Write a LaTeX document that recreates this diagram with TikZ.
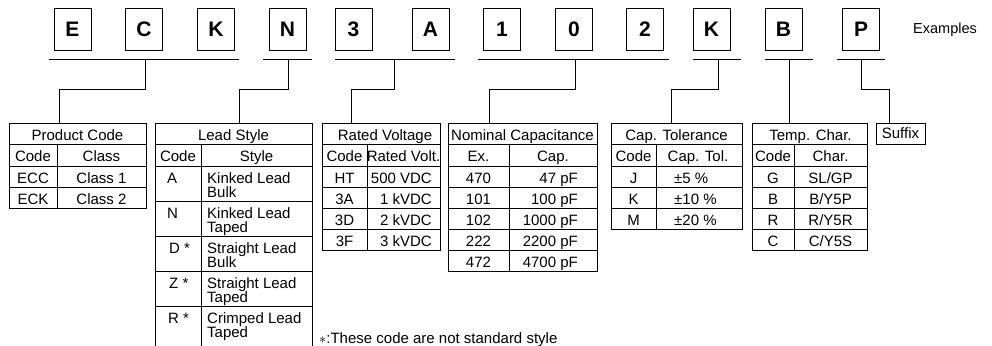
\documentclass[tikz,border=0pt]{standalone}
\usepackage{fontspec}
\setmainfont{Liberation Sans}
\usetikzlibrary{positioning}

\tikzset{
  letterbox/.style={draw, line width=.8pt, minimum width=37pt, minimum height=42pt,
    inner sep=0pt, font=\bfseries\fontsize{21}{21}\selectfont},
  rule/.style={line width=.8pt},
  cell/.style={inner sep=0pt, font=\fontsize{15}{14}\selectfont},
  twoline/.style={cell, align=left, anchor=base west},
}

\begin{document}
\begin{tikzpicture}[x=1pt,y=-1pt]
\clip (0,0) rectangle (992,345);
% the example code, letter by letter
\node[letterbox] (lE) at (72.5,29) {E};
\node[letterbox] (lC) at (144,29) {C};
\node[letterbox] (lK) at (216,29) {K};
\node[letterbox] (lN) at (287.5,29) {N};
\node[letterbox] (l3) at (353.5,29) {3};
\node[letterbox] (lA) at (430.5,29) {A};
\node[letterbox] (l1) at (502,29) {1};
\node[letterbox] (l0) at (574,29) {0};
\node[letterbox] (l2) at (645,29) {2};
\node[letterbox] (lTol) at (711.5,29) {K};
\node[letterbox] (lB) at (783.5,29) {B};
\node[letterbox] (lP) at (861,29) {P};
\node[anchor=west, inner sep=0pt, font=\fontsize{14.5}{14}\selectfont] (examples) at (913,30) {Examples};
% underlines of the groups
\draw[rule] (49,59) -- (239,59);
\draw[rule] (263,59) -- (312,59);
\draw[rule] (335,59) -- (455,59);
\draw[rule] (478,59) -- (669,59);
\draw[rule] (693,59) -- (741,59);
\draw[rule] (765,59) -- (813,59);
\draw[rule] (837,59) -- (885,59);
% connectors
\coordinate (uProd) at (145,59); \coordinate (tProd) at (59,123);
\coordinate (uLead) at (288,59); \coordinate (tLead) at (239,123);
\coordinate (uVolt) at (394,59); \coordinate (tVolt) at (351,123);
\coordinate (uCap) at (575,59); \coordinate (tCap) at (489,123);
\coordinate (uTol) at (718,59); \coordinate (tTol) at (671,123);
\coordinate (uTemp) at (789,59); \coordinate (tTemp) at (789,123);
\coordinate (uSfx) at (861,59); \coordinate (tSfx) at (889,123);
\draw[rule] (uProd) -- ++(0,30) -| (tProd);
\draw[rule] (uLead) -- ++(0,30) -| (tLead);
\draw[rule] (uVolt) -- ++(0,30) -| (tVolt);
\draw[rule] (uCap) -- ++(0,30) -| (tCap);
\draw[rule] (uTol) -- ++(0,30) -| (tTol);
\draw[rule] (uTemp) -- (tTemp);
\draw[rule] (uSfx) -- ++(0,30) -| (tSfx);
% product code
\draw[rule] (9,123) rectangle (146,208);
\draw[rule] (9,144) -- (146,144);
\draw[rule] (9,166) -- (146,166);
\draw[rule] (9,187) -- (146,187);
\draw[rule] (57,144) -- (57,208);
\node[cell, anchor=base] (prodH) at (77.5,140) {Product Code};
\node[cell, anchor=base] (prodC) at (33,161) {Code};
\node[cell, anchor=base] (prodS) at (101.5,161) {Class};
\node[cell, anchor=base] (prodA) at (33,183) {ECC};
\node[cell, anchor=base] (prodAv) at (101.5,183) {Class 1};
\node[cell, anchor=base] (prodB) at (33,204) {ECK};
\node[cell, anchor=base] (prodBv) at (101.5,204) {Class 2};
% lead style
\draw[rule] (155,350) -- (155,123) -- (312,123) -- (312,350);
\draw[rule] (155,144) -- (312,144);
\draw[rule] (155,166) -- (312,166);
\draw[rule] (155,201) -- (312,201);
\draw[rule] (155,236) -- (312,236);
\draw[rule] (155,271) -- (312,271);
\draw[rule] (155,306) -- (312,306);
\draw[rule] (201,144) -- (201,350);
\node[cell, anchor=base] (leadH) at (233.5,140) {Lead Style};
\node[cell, anchor=base] (leadC) at (178,161) {Code};
\node[cell, anchor=base] (leadS) at (256.5,161) {Style};
\node[cell, anchor=base west] (leadA) at (167,183) {A};
\node[cell, anchor=base west] (leadN) at (167,218) {N};
\node[cell, anchor=base west] (leadD) at (169,253) {D *};
\node[cell, anchor=base west] (leadZ) at (169,288) {Z *};
\node[cell, anchor=base west] (leadR) at (168,323) {R *};
\node[twoline] (leadAv) at (207,197) {Kinked Lead\\Bulk};
\node[twoline] (leadNv) at (207,232) {Kinked Lead\\Taped};
\node[twoline] (leadDv) at (207,267) {Straight Lead\\Bulk};
\node[twoline] (leadZv) at (207,302) {Straight Lead\\Taped};
\node[twoline] (leadRv) at (207,337) {Crimped Lead\\Taped};
% rated voltage
\draw[rule] (322,123) rectangle (440,250);
\draw[rule] (322,144) -- (440,144);
\draw[rule] (322,166) -- (440,166);
\draw[rule] (322,187) -- (440,187);
\draw[rule] (322,208) -- (440,208);
\draw[rule] (322,229) -- (440,229);
\draw[rule] (367,144) -- (367,250);
\node[cell, anchor=base] (voltH) at (385,140) {Rated Voltage};
\node[cell, anchor=base] (voltC) at (344.5,161) {Code};
\node[cell, anchor=base] (voltS) at (403.5,161) {Rated Volt.};
\node[cell, anchor=base] (voltA) at (344.5,183) {HT};
\node[cell, anchor=base] (voltB) at (344.5,204) {3A};
\node[cell, anchor=base] (voltD) at (344.5,225) {3D};
\node[cell, anchor=base] (voltF) at (344.5,246) {3F};
\node[cell, anchor=base east] (voltAv) at (432,183) {500 VDC};
\node[cell, anchor=base east] (voltBv) at (432,204) {1 kVDC};
\node[cell, anchor=base east] (voltDv) at (432,225) {2 kVDC};
\node[cell, anchor=base east] (voltFv) at (432,246) {3 kVDC};
% nominal capacitance
\draw[rule] (448,123) rectangle (597,271);
\draw[rule] (448,144) -- (597,144);
\draw[rule] (448,166) -- (597,166);
\draw[rule] (448,187) -- (597,187);
\draw[rule] (448,208) -- (597,208);
\draw[rule] (448,229) -- (597,229);
\draw[rule] (448,250) -- (597,250);
\draw[rule] (509,144) -- (509,271);
\node[cell, anchor=base] (capH) at (522.5,140) {Nominal Capacitance};
\node[cell, anchor=base] (capC) at (478.5,161) {Ex.};
\node[cell, anchor=base] (capS) at (553,161) {Cap.};
\node[cell, anchor=base] (capA) at (478.5,183) {470};
\node[cell, anchor=base] (capB) at (478.5,204) {101};
\node[cell, anchor=base] (capD) at (478.5,225) {102};
\node[cell, anchor=base] (capE) at (478.5,246) {222};
\node[cell, anchor=base] (capF) at (478.5,267) {472};
\node[cell, anchor=base east] (capAv) at (578,183) {47 pF};
\node[cell, anchor=base east] (capBv) at (578,204) {100 pF};
\node[cell, anchor=base east] (capDv) at (578,225) {1000 pF};
\node[cell, anchor=base east] (capEv) at (578,246) {2200 pF};
\node[cell, anchor=base east] (capFv) at (578,267) {4700 pF};
% capacitance tolerance
\draw[rule] (611,123) rectangle (742,229);
\draw[rule] (611,144) -- (742,144);
\draw[rule] (611,166) -- (742,166);
\draw[rule] (611,187) -- (742,187);
\draw[rule] (611,208) -- (742,208);
\draw[rule] (656,144) -- (656,229);
\node[cell, anchor=base] (tolH) at (676.5,140) {Cap. Tolerance};
\node[cell, anchor=base] (tolC) at (633.5,161) {Code};
\node[cell, anchor=base] (tolS) at (698,161) {Cap. Tol.};
\node[cell, anchor=base] (tolJ) at (633.5,183) {J};
\node[cell, anchor=base] (tolK) at (633.5,204) {K};
\node[cell, anchor=base] (tolM) at (633.5,225) {M};
\node[cell, anchor=base west] (tolJv) at (674,183) {±5 \%};
\node[cell, anchor=base west] (tolKv) at (674,204) {±10 \%};
\node[cell, anchor=base west] (tolMv) at (674,225) {±20 \%};
% temperature characteristic
\draw[rule] (752,123) rectangle (867,250);
\draw[rule] (752,144) -- (867,144);
\draw[rule] (752,166) -- (867,166);
\draw[rule] (752,187) -- (867,187);
\draw[rule] (752,208) -- (867,208);
\draw[rule] (752,229) -- (867,229);
\draw[rule] (794,144) -- (794,250);
\node[cell, anchor=base] (tempH) at (810.5,140) {Temp. Char.};
\node[cell, anchor=base] (tempC) at (773,161) {Code};
\node[cell, anchor=base] (tempS) at (830.5,161) {Char.};
\node[cell, anchor=base] (tempG) at (773,183) {G};
\node[cell, anchor=base] (tempB) at (773,204) {B};
\node[cell, anchor=base] (tempR) at (773,225) {R};
\node[cell, anchor=base] (tempCc) at (773,246) {C};
\node[cell, anchor=base] (tempGv) at (830.5,183) {SL/GP};
\node[cell, anchor=base] (tempBv) at (830.5,204) {B/Y5P};
\node[cell, anchor=base] (tempRv) at (830.5,225) {R/Y5R};
\node[cell, anchor=base] (tempCv) at (830.5,246) {C/Y5S};
% suffix
\node[cell, draw, rule, minimum width=49pt, minimum height=21pt] (sfx) at (900.5,133.5) {Suffix};
% footnote
\node[cell, anchor=base west] (note) at (319,343) {$\ast$:These code are not standard style};
\end{tikzpicture}
\end{document}
